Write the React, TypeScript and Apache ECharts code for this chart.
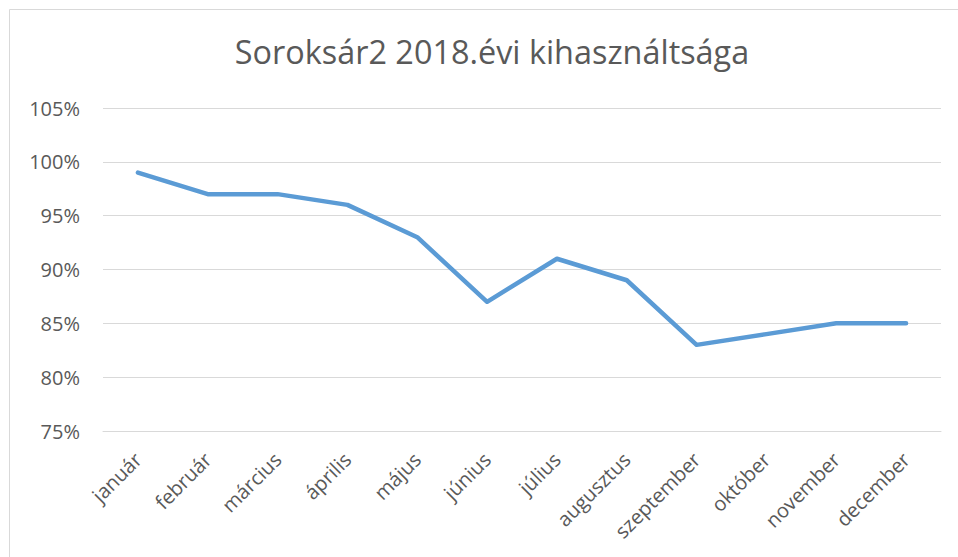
import React, { useEffect, useRef } from "react";
import * as echarts from "echarts";

const titleText = "Soroksár2 2018.évi kihasználtsága";
const months = [
  "január", "február", "március", "április", "május", "június",
  "július", "augusztus", "szeptember", "október", "november", "december",
];
const usage = [99, 97, 97, 96, 93, 87, 91, 89, 83, 84, 85, 85];
const yMin = 75;
const yMax = 105;
const yStep = 5;

export default function App() {
  const ref = useRef<HTMLDivElement>(null);
  useEffect(() => {
    if (!ref.current) return;
    const chart = echarts.init(ref.current, null, { renderer: "svg" });
    const font = "'Open Sans', 'Noto Sans', sans-serif";
    chart.setOption({
      animation: false,
      backgroundColor: "#ffffff",
      title: {
        text: titleText,
        left: 487,
        top: 30,
        textAlign: "center",
        textStyle: { fontFamily: font, fontSize: 32.4, fontWeight: "normal", color: "#595959" },
      },
      graphic: [
        {
          type: "rect",
          shape: { x: 9.5, y: 9.5, width: 1000, height: 600 },
          style: { fill: "none", stroke: "#d9d9d9", lineWidth: 1 },
          silent: true,
        },
      ],
      grid: { left: 103, top: 108, width: 838, height: 323, containLabel: false },
      xAxis: {
        type: "category",
        data: months,
        boundaryGap: true,
        axisLine: { show: true, lineStyle: { color: "#d9d9d9", width: 1 } },
        axisTick: { show: false },
        axisLabel: {
          rotate: 45,
          margin: 25,
          verticalAlign: "middle",
          fontFamily: font,
          fontSize: 20,
          color: "#595959",
          interval: 0,
        },
      },
      yAxis: {
        type: "value",
        min: yMin,
        max: yMax,
        interval: yStep,
        axisLine: { show: false },
        axisTick: { show: false },
        splitLine: { lineStyle: { color: "#d9d9d9", width: 1 } },
        axisLabel: {
          margin: 23,
          fontFamily: font,
          fontSize: 20,
          color: "#595959",
          formatter: (v: number) => `${v}%`,
        },
      },
      series: [
        {
          type: "line",
          data: usage,
          symbol: "none",
          lineStyle: { color: "#5b9bd5", width: 4.5, cap: "round", join: "round" },
        },
      ],
    });
    return () => chart.dispose();
  }, []);
  return (
    <div
      ref={ref}
      style={{ position: "fixed", left: 0, top: 0, width: 958, height: 557 }}
    />
  );
}
